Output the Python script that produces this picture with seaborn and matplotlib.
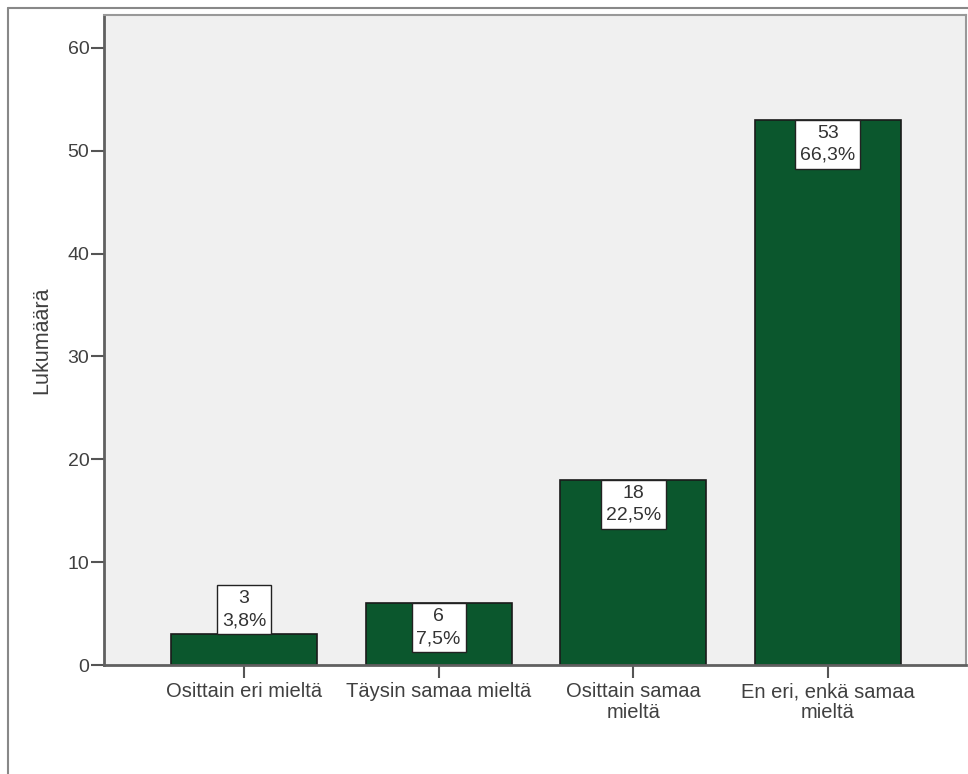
import matplotlib
matplotlib.use("Agg")
import matplotlib.pyplot as plt
import seaborn as sns
import pandas as pd
from matplotlib.lines import Line2D

categories = ["Osittain eri mieltä", "Täysin samaa mieltä", "Osittain samaa\nmieltä", "En eri, enkä samaa\nmieltä"]
counts = [3, 6, 18, 53]
percents = ["3,8%", "7,5%", "22,5%", "66,3%"]
yticks = [0, 10, 20, 30, 40, 50, 60]

sns.set_theme(style="white")
plt.rcParams['font.family'] = ['Liberation Sans', 'DejaVu Sans']

df = pd.DataFrame({"cat": categories, "n": counts})

fig = plt.figure(figsize=(9.68, 7.74), dpi=100)
ax = fig.add_axes([104/968, 109/774, (966-104)/968, (665-15)/774])
ax.set_facecolor("#f0f0f0")

sns.barplot(data=df, x="cat", y="n", color="#0b572d", saturation=1, width=0.75,
            edgecolor="#1a1a1a", linewidth=1.2, ax=ax)

ax.set_xlim(-0.72, 3.71)
ax.set_ylim(0, 63.2)
ax.set_yticks(yticks)
ax.set_yticklabels([str(t) for t in yticks], fontsize=14, color="#404040")
ax.set_xticks(range(len(categories)))
ax.set_xticklabels(categories, fontsize=14.5, color="#404040", linespacing=1.1)
ax.set_xlabel("")
ax.set_ylabel("Lukumäärä", fontsize=15.5, color="#404040")
ax.yaxis.set_label_coords((52-104)/862, 0.5)

ax.tick_params(axis="both", which="both", direction="out", length=9.5, width=1.5, color="#555555",
               left=True, bottom=True)
ax.tick_params(axis="y", pad=1)
ax.tick_params(axis="x", pad=3)

for side in ["left", "bottom"]:
    ax.spines[side].set_color("#606060")
    ax.spines[side].set_linewidth(2)
for side in ["top", "right"]:
    ax.spines[side].set_color("#999999")
    ax.spines[side].set_linewidth(1.5)
ax.spines["bottom"].set_zorder(5)

for i, (c, p) in enumerate(zip(counts, percents)):
    label = f"{c}\n{p}"
    if c < 5:
        ax.annotate(label, xy=(i, c), xytext=(0, 3.5), textcoords="offset points",
                    ha="center", va="bottom", fontsize=14, color="#333333", linespacing=1.4,
                    bbox=dict(boxstyle="square,pad=0.25", fc="white", ec="#222222", lw=1))
    else:
        ax.annotate(label, xy=(i, c), xytext=(0, -3.5), textcoords="offset points",
                    ha="center", va="top", fontsize=14, color="#333333", linespacing=1.4,
                    bbox=dict(boxstyle="square,pad=0.25", fc="white", ec="#222222", lw=1))

# outer frame lines
fig.add_artist(Line2D([8/968, 8/968], [0, 1 - 8/774], transform=fig.transFigure, color="#888888", lw=1.5))
fig.add_artist(Line2D([8/968, 1], [1 - 8/774, 1 - 8/774], transform=fig.transFigure, color="#888888", lw=1.5))

fig.savefig("out.png", dpi=100)
